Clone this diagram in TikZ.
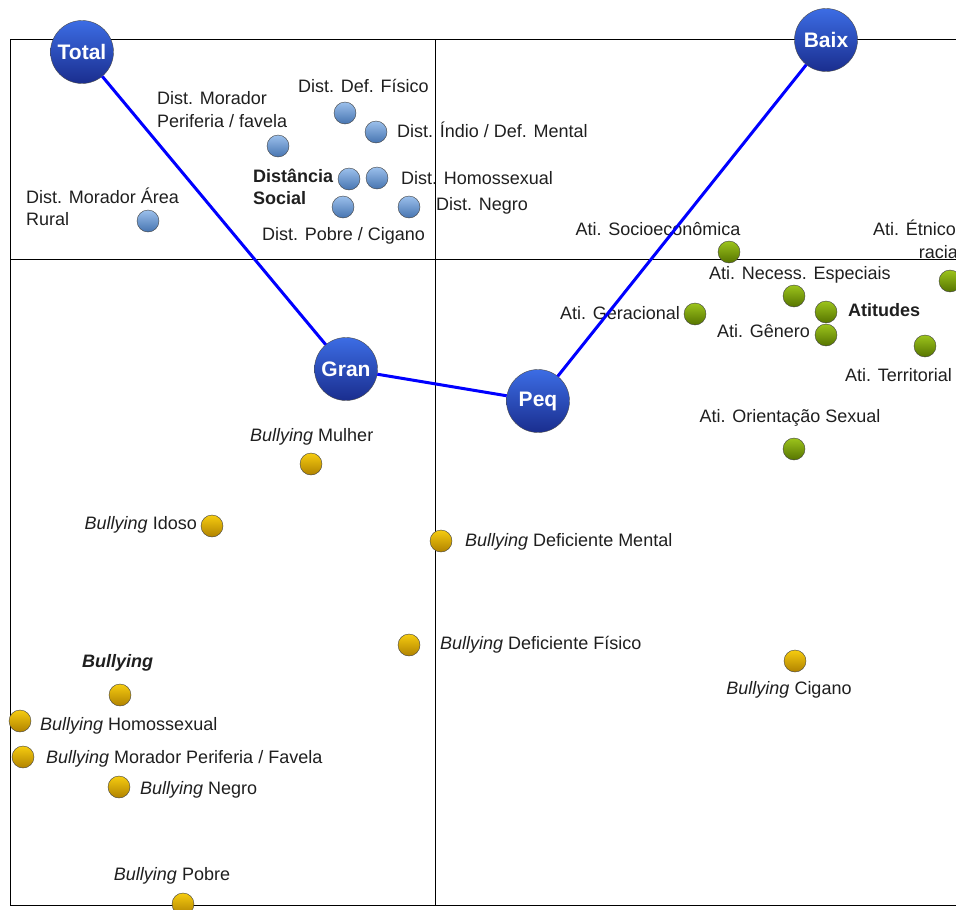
\documentclass[tikz,border=0pt]{standalone}
\usepackage{fontspec}
\setmainfont{Liberation Sans}
\definecolor{distclaro}{HTML}{9CC0EC}
\definecolor{distescuro}{HTML}{4674B0}
\definecolor{aticlaro}{HTML}{9CC41C}
\definecolor{atiescuro}{HTML}{567400}
\definecolor{bulclaro}{HTML}{F6CC10}
\definecolor{bulescuro}{HTML}{B08200}
\definecolor{modoclaro}{HTML}{3C6CE4}
\definecolor{modoescuro}{HTML}{1A2E8E}
\begin{document}
\begin{tikzpicture}[x=1pt,y=-1pt,
  font=\fontsize{18}{22.5}\selectfont,
  txt/.style={inner sep=0pt, text=black!88},
  dot/.style={circle, minimum size=22pt, inner sep=0pt, draw=black!75, thin, shading angle=45},
  dist/.style={dot, top color=distclaro, bottom color=distescuro},
  ati/.style={dot, top color=aticlaro, bottom color=atiescuro},
  bul/.style={dot, top color=bulclaro, bottom color=bulescuro},
  modo/.style={circle, minimum size=63pt, inner sep=0pt, draw=black!70, thin, shading angle=45,
    top color=modoclaro, bottom color=modoescuro,
    text=white, font=\fontsize{21}{24}\selectfont\bfseries},
  link/.style={blue, line width=3pt}]
  \clip (0,0) rectangle (956,910);
  % quadrantes
  \draw[black] (10,39) rectangle (970,905);
  \draw[black] (435,39) -- (435,905);
  \draw[black] (10,259) -- (970,259);

  % distancia social
  \node[dist] (dDefFis) at (345,113) {};
  \node[txt, anchor=west] (lDefFis) at (298,86) {Dist. Def. Físico};
  \node[dist] (dIndio) at (376,132) {};
  \node[txt, anchor=west] (lIndio) at (397,130) {Dist. Índio / Def. Mental};
  \node[dist] (dPeriferia) at (278,146) {};
  \node[txt, anchor=west, align=left] (lPeriferia) at (157,109.5) {Dist. Morador\\Periferia / favela};
  \node[dist] (dSocial) at (349,179) {};
  \node[txt, anchor=west, align=left, font=\fontsize{18}{22}\selectfont\bfseries] (lSocial) at (253,187) {Distância\\Social};
  \node[dist] (dHomo) at (377,178) {};
  \node[txt, anchor=west] (lHomo) at (401,178) {Dist. Homossexual};
  \node[dist] (dPobre) at (343,207) {};
  \node[txt, anchor=west] (lPobre) at (262,236) {Dist. Pobre / Cigano};
  \node[dist] (dNegro) at (409,207) {};
  \node[txt, anchor=west] (lNegro) at (436,206) {Dist. Negro};
  \node[dist] (dRural) at (148,221) {};
  \node[txt, anchor=west, align=left] (lRural) at (26,207) {Dist. Morador Área\\Rural};

  % atitudes
  \node[ati] (aSocio) at (729,252) {};
  \node[txt] (lSocio) at (658,229) {Ati. Socioeconômica};
  \node[ati] (aEtnico) at (950,281) {};
  \node[txt, anchor=east, align=right] (lEtnico) at (962,239.5) {Ati. Étnico-\\racial};
  \node[ati] (aNecess) at (794,296) {};
  \node[txt, anchor=west] (lNecess) at (709,275) {Ati. Necess. Especiais};
  \node[ati] (aAtitudes) at (826,312) {};
  \node[txt, anchor=west, font=\fontsize{18}{22}\selectfont\bfseries] (lAtitudes) at (848,310) {Atitudes};
  \node[ati] (aGenero) at (826,335) {};
  \node[txt, anchor=east] (lGenero) at (810,331) {Ati. Gênero};
  \node[ati] (aGeracao) at (695,314) {};
  \node[txt, anchor=east] (lGeracao) at (680,313) {Ati. Geracional};
  \node[ati] (aTerritorio) at (925,346) {};
  \node[txt, anchor=west] (lTerritorio) at (845,375) {Ati. Territorial};
  \node[ati] (aOrient) at (794,449) {};
  \node[txt] (lOrient) at (790,418) {Ati. Orientação Sexual};

  % bullying
  \node[bul] (bMulher) at (311,464) {};
  \node[txt, anchor=west] (lMulher) at (250,437) {\textit{Bullying} Mulher};
  \node[bul] (bIdoso) at (212,526) {};
  \node[txt, anchor=east] (lIdoso) at (197,525) {\textit{Bullying} Idoso};
  \node[bul] (bMental) at (441,541) {};
  \node[txt, anchor=west] (lMental) at (465,542) {\textit{Bullying} Deficiente Mental};
  \node[bul] (bFisico) at (409,645) {};
  \node[txt, anchor=west] (lFisico) at (440,645) {\textit{Bullying} Deficiente Físico};
  \node[bul] (bCigano) at (795,661) {};
  \node[txt] (lCigano) at (789,690) {\textit{Bullying} Cigano};
  \node[bul] (bBullying) at (120,695) {};
  \node[txt, anchor=west, font=\fontsize{18}{22}\selectfont\bfseries\itshape] (lBullying) at (82,663) {Bullying};
  \node[bul] (bHomo) at (20,721) {};
  \node[txt, anchor=west] (lHomoB) at (40,726) {\textit{Bullying} Homossexual};
  \node[bul] (bFavela) at (23,757) {};
  \node[txt, anchor=west] (lFavela) at (46,759) {\textit{Bullying} Morador Periferia / Favela};
  \node[bul] (bNegro) at (119,787) {};
  \node[txt, anchor=west] (lNegroB) at (140,790) {\textit{Bullying} Negro};
  \node[bul] (bPobre) at (183,904) {};
  \node[txt] (lPobreB) at (172,876) {\textit{Bullying} Pobre};

  % modalidades
  \node[modo] (total) at (82,52) {Total};
  \node[modo] (baix) at (826,40) {Baix};
  \node[modo] (gran) at (346,369) {Gran};
  \node[modo] (peq) at (538,401) {Peq};
  \draw[link] (total) -- (gran);
  \draw[link] (gran) -- (peq);
  \draw[link] (peq) -- (baix);
\end{tikzpicture}
\end{document}
